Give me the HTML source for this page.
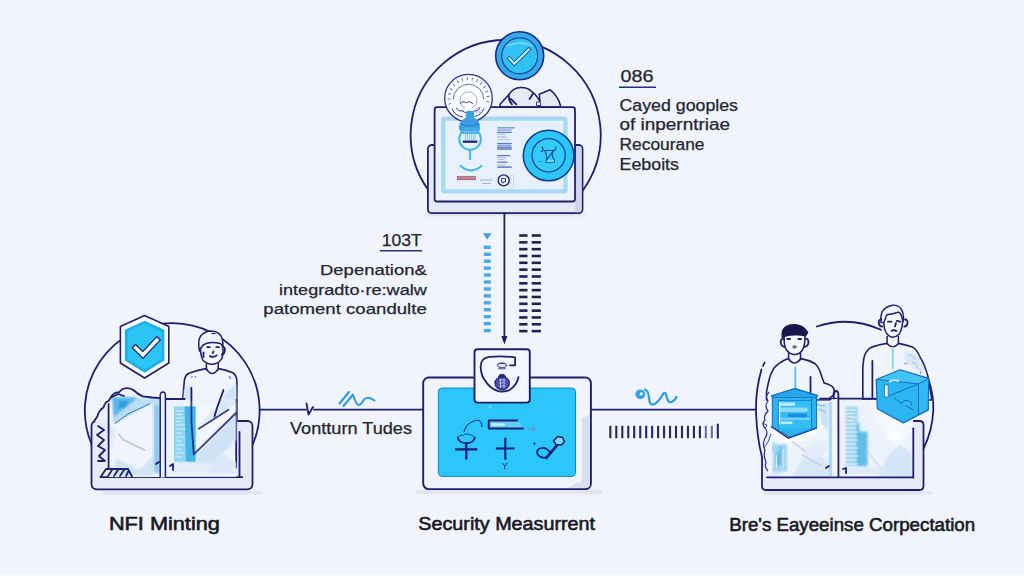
<!DOCTYPE html>
<html lang="en">
<head>
<meta charset="utf-8">
<title>NFT Security Flow</title>
<style>
  html, body { margin: 0; padding: 0; }
  body { width: 1024px; height: 576px; overflow: hidden; background: #f1f4fc; font-family: "Liberation Sans", sans-serif; }
  svg { display: block; }
  .t { font-family: "Liberation Sans", sans-serif; fill: #24252f; stroke: #24252f; stroke-width: 0.25px; font-size: 16px; }
  .lbl { font-family: "Liberation Sans", sans-serif; fill: #171822; stroke: #171822; stroke-width: 0.55px; font-size: 17.6px; }
  .nv { stroke: #1f1f70; fill: none; stroke-width: 1.8; stroke-linecap: round; stroke-linejoin: round; }
</style>
</head>
<body>
<svg width="1024" height="576" viewBox="0 0 1024 576">
  <defs>
    <filter id="soft" x="-10%" y="-10%" width="120%" height="120%"><feGaussianBlur stdDeviation="0.9"/></filter>
    <filter id="soft2" x="-10%" y="-10%" width="120%" height="120%"><feGaussianBlur stdDeviation="1.6"/></filter>
  </defs>
  <rect x="0" y="0" width="1024" height="576" fill="#f1f4fc"/>
  <rect x="0" y="573.500" width="1024" height="2.500" fill="#f8faff"/>

  <!-- ===================== TOP MONITOR GROUP ===================== -->
  <g id="top">
    <path class="nv" d="M427.900 189.5 A95 95 0 1 1 582.500 190.9" stroke-width="1.600"/>
    <rect x="424" y="213.500" width="162" height="3" rx="1.500" fill="#e3e7f3"/>
    <!-- back frame -->
    <rect x="427.900" y="145" width="154.600" height="68.200" rx="4" fill="#e4e9f6" stroke="#1f1f70" stroke-width="1.800"/>
    <path d="M575 146 H579 Q581.600 146 581.600 149 V209 Q581.600 212.300 578 212.300 H575 Z" fill="#cfd8ea"/>
    <!-- crumpled paper -->
    <path d="M500.100 104.300 L508.900 94.600 Q513 88 520.750 87.600 Q527 87.300 531.300 91.100 Q536 94.500 537.900 98.100 L541.800 104.700 L541.800 107 H500 Z" fill="#e6ebf6" stroke="#1f1f70" stroke-width="1.500" stroke-linejoin="round"/>
    <path d="M508.900 94.600 Q508 100 512 104.300 M511 99 L516.400 104.300 M533 93.700 L529.500 99" class="nv" stroke-width="1.300"/>
    <path d="M539.200 94.200 L550.200 89.800 Q554.500 93 556.800 97.200 Q559.500 101 560.300 105.100 V107 H540.500 Z" fill="#e4e9f4" stroke="#1f1f70" stroke-width="1.500" stroke-linejoin="round"/>
    <path d="M536.500 102 h4 v3.500 h-4 Z" fill="#f3f6fd" stroke="#3a3ca0" stroke-width="1"/>
    <!-- front monitor -->
    <rect x="434.600" y="107.200" width="140.400" height="94.300" rx="2.500" fill="#eef2fc" stroke="#1f1f70" stroke-width="1.800"/>
    <rect x="443.200" y="118.600" width="122.300" height="72.700" rx="1" fill="#e6f1fc" stroke="#a6d9f5" stroke-width="4.200"/>
    <!-- gauge -->
    <circle cx="468.500" cy="98.200" r="23.800" fill="#fbfcff" stroke="#2f3188" stroke-width="1.300"/>
    <path d="M450 104.400 A19.500 19.500 0 1 1 487 104.400" fill="none" stroke="#3d3f92" stroke-width="3" stroke-dasharray="1.100 3.900" opacity="0.650"/>
    <path d="M453.300 99.400 a15.200 15.200 0 0 1 30.400 0" fill="none" stroke="#55589f" stroke-width="0.900"/>
    <circle cx="468.500" cy="100.400" r="8.500" fill="#ffffff" stroke="#8c8fc2" stroke-width="0.800"/>
    <path d="M460 104 q3 -4 6 -1 q3 -3 7 1" fill="none" stroke="#3d3f92" stroke-width="1"/>
    <!-- gauge lower part overlapping monitor -->
    <path d="M452 108 Q455 116 463 117 L468 112 L474 117 Q481 115 484 108 Z" fill="#f7f9fe"/>
    <path d="M452 108.500 Q455 116 463 117 M484 108.500 Q481 115 475 116.500" fill="none" stroke="#2f3188" stroke-width="1"/>
    <path d="M456 108 q3 4 7 3 q2 3 5 1 q3 3 6 -1 q3 1 6 -3" fill="none" stroke="#3d3f92" stroke-width="1"/>
    <path d="M475 109 l6 -2 M476 112 l5 0" stroke="#a8a2d8" stroke-width="0.800"/>
    <!-- blue lamp -->
    <path d="M466.500 111.500 Q470 110 473.800 111.500 L474.500 118 Q479 120 480 126 Q480.500 130 478 133 H462 Q458.500 130 459 126 Q460 120.500 465.500 118 Z" fill="#3a9fe3"/>
    <path d="M461 124 q9 4 18 0" stroke="#2573c4" stroke-width="0.900" fill="none"/>
    <rect x="464" y="133" width="12.300" height="7.300" fill="#d3ebfa"/>
    <path d="M465.500 133 v7 M467.500 133 v7 M469.500 133 v7 M471.500 133 v7 M473.500 133 v7 M475.300 133 v7" stroke="#7fc4ee" stroke-width="0.800"/>
    <circle cx="470.100" cy="139" r="10.800" fill="none" stroke="#45b4ee" stroke-width="2"/>
    <rect x="464" y="131.500" width="12.300" height="9" fill="#d3ebfa"/>
    <path d="M465.500 132 v8 M467.500 132 v8 M469.500 132 v8 M471.500 132 v8 M473.500 132 v8 M475.300 132 v8" stroke="#7fc4ee" stroke-width="0.800"/>
    <path d="M462 133 H478" stroke="#3a9fe3" stroke-width="1.500"/>
    <rect x="462.800" y="140.600" width="14.600" height="2.200" fill="#1f1f70"/>
    <path d="M470.100 150 V160" stroke="#45b4ee" stroke-width="1.900"/>
    <path d="M460.400 165.800 Q471 175 481.600 165.800" fill="none" stroke="#45b4ee" stroke-width="1.900" stroke-linecap="round"/>
    <!-- red strip + small bits -->
    <rect x="457.5" y="176.6" width="18" height="3.2" fill="#d97a86" stroke="#5a3a78" stroke-width="0.5"/>
    <path d="M480 180 h12 M482 183.5 h9" stroke="#9fb6d8" stroke-width="1.2"/>
    <circle cx="503.700" cy="180.400" r="5.500" fill="#eef2fb" stroke="#1f1f70" stroke-width="1.400"/>
    <path d="M501.500 178.500 h4 v3.500 h-4 Z M503 182 v1.500 M506.300 176.500 l1 1" fill="none" stroke="#2f3188" stroke-width="0.900"/>
    <rect x="510.700" y="175.600" width="2.800" height="11.400" fill="#eef2fb" stroke="#c5cde6" stroke-width="0.800"/>
    <!-- text lines on monitor -->
    <g fill="none"><path d="M497.200 127.8 h17.7" stroke="#6f8fd8" stroke-width="1.3"/><path d="M497.200 130.0 h14.5" stroke="#7a83d2" stroke-width="1.1"/><path d="M497.200 132.4 h14.5" stroke="#5f74c8" stroke-width="1.2"/><path d="M497.200 134.4 h9" stroke="#a9b6e2" stroke-width="0.9"/><path d="M497.200 137.0 h10" stroke="#9aa6dc" stroke-width="0.9"/><path d="M497.200 139.7 h14" stroke="#a9b6e2" stroke-width="0.8"/><path d="M497.200 143.5 h15" stroke="#5f7fd0" stroke-width="1.2"/><path d="M497.200 145.3 h14" stroke="#6f8fd8" stroke-width="1.1"/><path d="M497.200 147.2 h14.5" stroke="#4e66be" stroke-width="1.2"/><path d="M497.200 149.0 h14.5" stroke="#3d55b0" stroke-width="1.2"/><path d="M497.200 155.6 h13" stroke="#5f74c8" stroke-width="1.2"/><path d="M497.200 157.4 h9" stroke="#a9b6e2" stroke-width="0.9"/><path d="M497.200 159.4 h8" stroke="#a9b6e2" stroke-width="0.9"/><path d="M497.200 162.2 h10.5" stroke="#5f74c8" stroke-width="1.2"/><path d="M497.200 165.0 h9" stroke="#a9b6e2" stroke-width="0.9"/><path d="M497.200 167.1 h14.5" stroke="#4e66be" stroke-width="1.3"/></g>
    <!-- round badge on monitor -->
    <circle cx="548.600" cy="155.500" r="25.300" fill="#2cc6f9" stroke="#0d3d92" stroke-width="1.500"/>
    <circle cx="548.600" cy="155.300" r="16.600" fill="#33cbfb" stroke="#0e4fa0" stroke-width="1.300"/>
    <path d="M542.300 147 l0.800 3.500 l-1.800 1 M556 147 l-0.800 3 l-2.500 0.800 M544.500 150.500 H553.500 L546.500 160 L546 162.500 H554.500 L554 158.500 L552.500 157 M544.500 150.500 Q547.500 155 546.500 160 M553.500 150.500 Q551.500 154 552.500 157" fill="none" stroke="#0e4fa0" stroke-width="1.200" stroke-linecap="round" stroke-linejoin="round"/>
    <path d="M547 160 h7 v2.300 h-7.500 Z" fill="#6fdafc"/>
    <path d="M538.500 161.500 h3" stroke="#2a86d0" stroke-width="1"/>
    <!-- check badge -->
    <circle cx="519.700" cy="55.800" r="24" fill="#3aa8e8" stroke="#0d2f8a" stroke-width="1.600"/>
    <circle cx="519.700" cy="55.800" r="18" fill="#30c1f5" stroke="#0d4a9c" stroke-width="1.200"/>
    <path d="M507 46 Q519 40.500 532 45.500" fill="none" stroke="#8fe0fb" stroke-width="1.300" stroke-linecap="round"/>
    <path d="M509.300 58.300 L514.300 63.800 L528.800 49.500" fill="none" stroke="#0d4a9c" stroke-width="3.800" stroke-linecap="square" stroke-linejoin="miter"/>
    <path d="M509.300 58.300 L514.300 63.800 L528.800 49.500" fill="none" stroke="#c4f0fd" stroke-width="2.100" stroke-linecap="square" stroke-linejoin="miter"/>
  </g>

  <!-- ===================== CONNECTORS ===================== -->
  <g id="conn">
    <path class="nv" d="M504.4 213 V338" stroke-width="1.6"/>
    <path d="M504.400 344.500 L501.300 336 H507.500 Z" fill="#1f1f70"/>
    <path d="M483 233.2 H491.6 L487.3 239.4 Z" fill="#3b9fe6"/>
    <rect x="483.8" y="245.60" width="7" height="3.4" fill="#49a8ea"/>
    <rect x="483.8" y="252.54" width="7" height="3.4" fill="#49a8ea"/>
    <rect x="483.8" y="259.48" width="7" height="3.4" fill="#49a8ea"/>
    <rect x="483.8" y="266.42" width="7" height="3.4" fill="#49a8ea"/>
    <rect x="483.8" y="273.36" width="7" height="3.4" fill="#49a8ea"/>
    <rect x="483.8" y="280.30" width="7" height="3.4" fill="#49a8ea"/>
    <rect x="483.8" y="287.24" width="7" height="3.4" fill="#49a8ea"/>
    <rect x="483.8" y="294.18" width="7" height="3.4" fill="#49a8ea"/>
    <rect x="483.8" y="301.12" width="7" height="3.4" fill="#49a8ea"/>
    <rect x="483.8" y="308.06" width="7" height="3.4" fill="#49a8ea"/>
    <rect x="483.8" y="315.00" width="7" height="3.4" fill="#49a8ea"/>
    <rect x="483.8" y="321.94" width="7" height="3.4" fill="#49a8ea"/>
    <rect x="483.8" y="328.88" width="7" height="3.4" fill="#49a8ea"/>
    <rect x="519.2" y="234.20" width="8.3" height="2.600" fill="#20214f"/>
    <rect x="531.7" y="234.20" width="9.2" height="2.600" fill="#20214f"/>
    <rect x="519.2" y="241.03" width="8.3" height="2.600" fill="#20214f"/>
    <rect x="531.7" y="241.03" width="9.2" height="2.600" fill="#20214f"/>
    <rect x="519.2" y="247.86" width="8.3" height="2.600" fill="#20214f"/>
    <rect x="531.7" y="247.86" width="9.2" height="2.600" fill="#20214f"/>
    <rect x="519.2" y="254.69" width="8.3" height="2.600" fill="#20214f"/>
    <rect x="531.7" y="254.69" width="9.2" height="2.600" fill="#20214f"/>
    <rect x="519.2" y="261.52" width="8.3" height="2.600" fill="#20214f"/>
    <rect x="531.7" y="261.52" width="9.2" height="2.600" fill="#20214f"/>
    <rect x="519.2" y="268.35" width="8.3" height="2.600" fill="#20214f"/>
    <rect x="531.7" y="268.35" width="9.2" height="2.600" fill="#20214f"/>
    <rect x="519.2" y="275.18" width="8.3" height="2.600" fill="#20214f"/>
    <rect x="531.7" y="275.18" width="9.2" height="2.600" fill="#20214f"/>
    <rect x="519.2" y="282.01" width="8.3" height="2.600" fill="#20214f"/>
    <rect x="531.7" y="282.01" width="9.2" height="2.600" fill="#20214f"/>
    <rect x="519.2" y="288.84" width="8.3" height="2.600" fill="#20214f"/>
    <rect x="531.7" y="288.84" width="9.2" height="2.600" fill="#20214f"/>
    <rect x="519.2" y="295.67" width="8.3" height="2.600" fill="#20214f"/>
    <rect x="531.7" y="295.67" width="9.2" height="2.600" fill="#20214f"/>
    <rect x="519.2" y="302.50" width="8.3" height="2.600" fill="#20214f"/>
    <rect x="531.7" y="302.50" width="9.2" height="2.600" fill="#20214f"/>
    <rect x="519.2" y="309.33" width="8.3" height="2.600" fill="#20214f"/>
    <rect x="531.7" y="309.33" width="9.2" height="2.600" fill="#20214f"/>
    <rect x="519.2" y="316.16" width="8.3" height="2.600" fill="#20214f"/>
    <rect x="531.7" y="316.16" width="9.2" height="2.600" fill="#20214f"/>
    <rect x="519.2" y="322.99" width="8.3" height="2.600" fill="#20214f"/>
    <rect x="531.7" y="322.99" width="9.2" height="2.600" fill="#20214f"/>
    <rect x="519.2" y="329.82" width="8.3" height="2.600" fill="#20214f"/>
    <rect x="531.7" y="329.82" width="9.2" height="2.600" fill="#20214f"/>
    <path class="nv" d="M259.800 409.700 H306 M314 409.700 H422.500"/>
    <path class="nv" d="M306.5 403.5 L308.5 414.5 L313 407" stroke-width="1.4"/>
    <path class="nv" d="M591 409.700 H756"/>
    <path d="M339.5 403.5 L349 392 M343.5 406 L353 394.5 Q356 404.5 358.5 405 Q361 405 364 399.5 Q368 395.5 374.5 400.5" fill="none" stroke="#2d9ceb" stroke-width="2.100" stroke-linecap="round" stroke-linejoin="round"/>
    <circle cx="640.3" cy="394.3" r="4.9" fill="#3aa0e8"/><circle cx="641.300" cy="393.800" r="1.600" fill="#f1f4fc"/>
    <path d="M645 389.5 Q648.5 391 649 398 Q649.5 405.5 653.5 404.5 Q659 402 663 394 Q665.5 391 666.5 396 Q667.5 403 671.5 402 Q674.5 401 676.5 397" fill="none" stroke="#2d9ceb" stroke-width="2.200" stroke-linecap="round" stroke-linejoin="round"/>
    <rect x="609.30" y="425.8" width="2.1" height="12.4" fill="#26275c"/>
    <rect x="615.27" y="425.8" width="2.1" height="12.4" fill="#26275c"/>
    <rect x="621.24" y="425.8" width="2.1" height="12.4" fill="#26275c"/>
    <rect x="627.21" y="425.8" width="2.1" height="12.4" fill="#26275c"/>
    <rect x="633.18" y="425.8" width="2.1" height="12.4" fill="#26275c"/>
    <rect x="639.15" y="425.8" width="2.1" height="12.4" fill="#26275c"/>
    <rect x="645.12" y="425.8" width="2.1" height="12.4" fill="#26275c"/>
    <rect x="651.09" y="425.8" width="2.1" height="12.4" fill="#26275c"/>
    <rect x="657.06" y="425.8" width="2.1" height="12.4" fill="#26275c"/>
    <rect x="663.03" y="425.8" width="2.1" height="12.4" fill="#26275c"/>
    <rect x="669.00" y="425.8" width="2.1" height="12.4" fill="#26275c"/>
    <rect x="674.97" y="425.8" width="2.1" height="12.4" fill="#26275c"/>
    <rect x="680.94" y="425.8" width="2.1" height="12.4" fill="#26275c"/>
    <rect x="686.91" y="425.8" width="2.1" height="12.4" fill="#26275c"/>
    <rect x="692.88" y="425.8" width="2.1" height="12.4" fill="#26275c"/>
    <rect x="698.85" y="425.8" width="2.1" height="12.4" fill="#26275c"/>
    <rect x="704.82" y="425.8" width="2.1" height="12.4" fill="#4a4c7e" opacity="0.8"/>
    <rect x="710.79" y="425.8" width="2.1" height="12.4" fill="#4a4c7e" opacity="0.8"/>
    <rect x="716.76" y="423.7" width="2.1" height="14.8" fill="#26275c"/>
  </g>

  <!-- ===================== LEFT GROUP ===================== -->
  <g id="left">
    <!-- circle -->
    <path class="nv" d="M91.500 444 A87.400 87.400 0 1 1 252.500 445"/>
    <!-- person body -->
    <path d="M205.700 368.600 Q196 370.500 188.300 373.500 Q184.500 376 184.200 382.500 L182.800 397.800 V440 H236.900 V381.100 Q236.500 375 232.800 372.800 Q226 370 218.900 368.600 Q212.300 376 205.700 368.600 Z" fill="#f0f4fc" stroke="#1f1f70" stroke-width="1.600" stroke-linejoin="round"/>
    <path d="M206.400 362 V368.600 Q212.300 378.500 218.200 368.600 V362" fill="#f5f8fd" stroke="#1f1f70" stroke-width="1.500"/>
    <path d="M184 390 L192 384 V400 H183.500 Z M236 384 L226 392 L222 400 H236.500 Z" fill="#c6e0f6" opacity="0.800" filter="url(#soft)"/>
    <path d="M191 377.500 l1.500 -1 M195 376 l1 1.500 M229 376 l1.500 3" stroke="#3a3ca0" stroke-width="0.900" fill="none"/>
    <!-- head -->
    <path d="M200.500 345 Q200 354 202.900 360.300 Q207 364.500 212.600 364.200 Q218 364 221.700 358.900 Q224 352 222.500 343 Q212 338 200.500 345 Z" fill="#f5f8fd" stroke="#1f1f70" stroke-width="1.500" stroke-linejoin="round"/>
    <path d="M199.400 351 Q197.500 340 201 335.500 Q205 331.300 211 331.100 Q218 331.300 221 336 Q223.500 340.500 222.400 346.500 Q221.500 344 220.300 343.600 Q213 342 207.800 343 Q203.500 344 202.200 346.400 Q200.500 348 199.400 351 Z" fill="#f0f3fb" stroke="#1f1f70" stroke-width="1.500" stroke-linejoin="round"/>
    <path d="M211.500 333.500 h4" stroke="#1f1f70" stroke-width="1.200"/>
    <path d="M222.800 346.500 q2.800 0.800 2 4.500 q-0.800 3.500 -3 3.500" class="nv" stroke-width="1.300"/>
    <path d="M203.500 352.500 v4.500" class="nv" stroke-width="1"/>
    <path d="M207.200 347.200 h2.600 M216.300 347.200 h2.600" class="nv" stroke-width="1.200"/>
    <path d="M213.500 351.500 l-0.800 1.500" class="nv" stroke-width="0.800"/>
    <path d="M209.900 356.100 Q213.500 358 216.800 355.400" class="nv" stroke-width="1.200"/>
    <!-- tray -->
    <rect x="91.500" y="421" width="161" height="68.300" rx="5" fill="#e7ebf7" stroke="#1f1f70" stroke-width="1.800"/>
    <path d="M100.400 477.100 H242.300" class="nv" stroke-width="1.600"/>
    <rect x="102" y="491" width="160" height="3.800" rx="1.900" fill="#e1e6f2"/>
    <!-- crumpled stuff behind left box -->
    <path d="M93.600 422 L97.300 416.400 L103 408 L108.500 401 L112 395.500 L119 391.500 L126.400 388.200 L134 390.500 L142.800 396.400 L152 397.500 L160 398.200 V422 Z" fill="#eef3fb"/>
    <path d="M98 426 l6 4 l-7 5 l7 5 l-6 6 l7 4 l-6 6 l6 5 h-7" class="nv" stroke-width="1.100"/>
    <!-- left glass box -->
    <rect x="108.200" y="396" width="52" height="81" fill="#f0f5fc"/>
    <g filter="url(#soft)">
      <path d="M112 397 H137 L136 408 L126 416 L114 423 Z" fill="#5bb8ea"/>
      <path d="M119 401 h9 v7 h-9 Z" fill="#2b9de0"/>
      <path d="M137 398 H160 V406 L150 404 L114.600 424 L113 418 Z" fill="#b9ddf4"/>
      <path d="M153.700 405 H160 V473 H153.700 Z" fill="#8fcbee"/>
      <path d="M116 458 L140 470 L153 456 V476 H112 Z" fill="#cfe5f5"/>
      <path d="M109 424 L116 430 L112 450 Z" fill="#dbeaf8"/>
    </g>
    <path d="M114.600 423.700 L128 414 L150 403.700" fill="none" stroke="#3e6fc0" stroke-width="1"/>
    <path d="M118.800 434.300 L122.800 439.400 L144.600 450.100" fill="none" stroke="#c3c6cf" stroke-width="1.700" stroke-linecap="round" stroke-linejoin="round"/>
    <path d="M108.600 404 V467.500" class="nv" stroke-width="1.300"/>
    <path d="M93.600 422 L97.300 416.400 Q99 410 103.500 407.500 Q105 402 108.500 401 L112 395.500 Q115 391.500 119 392.500 Q122 388.500 126.400 388.200 Q131 388 134 390.500 Q138 394.500 142.800 396.400 L152 397.500 L160 398.200" class="nv" stroke-width="1.500"/>
    <path d="M111 397.500 L118 394 L124 396" class="nv" stroke-width="1"/>
    <path d="M101 476.500 l5 -7.500 h22 l4 7.500 M108 476 l4 -6 M114 476 l4 -6 M120 476 l4 -6 M126 476 l2.500 -5" class="nv" stroke-width="1.300"/>
    <!-- right glass box -->
    <rect x="166" y="399.800" width="70.400" height="77" fill="#edf3fc"/>
    <path d="M236.200 400 V467.500" class="nv" stroke-width="1.500"/>
    <g filter="url(#soft)">
      <path d="M197 404 H236 V412 L200 452 Z" fill="#f3f7fd"/>
      <path d="M196 455 L236 414 V440 L206 470 H196 Z" fill="#cfe3f6"/>
      <path d="M198 428 L228 409 L236 404 V399.800 H222 Z" fill="#d9e9f8"/>
      <path d="M169.600 463 H236 V473 H169.600 Z" fill="#e6eff9"/>
      <path d="M205 474 L222 452 L236 466 V474 Z" fill="#dbe9f8"/>
    </g>
    <rect x="174" y="406.500" width="21.500" height="55.300" fill="#8fd4f3"/>
    <path d="M184.500 406.500 H195.500 V461.800 H186 Z" fill="#41b5ea"/>
    <g stroke="#d9f1fc" stroke-width="1.200">
      <path d="M175.500 411 h9 M175.500 414.500 h7 M175.500 418 h9 M175.500 421.500 h6 M175.500 425 h9 M175.500 429 h10 M175.500 433 h7 M175.500 437 h9 M175.500 441 h6 M175.500 445 h9 M175.500 449 h6 M175.500 453 h9 M175.500 457 h7"/>
    </g>
    <path d="M174 462.500 H236" stroke="#d6e6f5" stroke-width="1.500"/>
    <path d="M165.400 399 H184.700" class="nv" stroke-width="1.600"/>
    <!-- arm lines -->
    <path d="M191.400 388 V399.800" class="nv" stroke-width="1.500"/>
    <path d="M191.400 399.800 V421.400 L193.800 454.400 L235.500 413.500 M198.800 428.800 L228.500 409.800" class="nv" stroke-width="1.300" stroke="#2f3590" opacity="0.850"/>
    <path d="M223.500 390 L216.900 408.200 L214.500 416.400" class="nv" stroke-width="1.500"/>
    <!-- divider -->
    <path d="M160.200 477.500 V396 Q160.200 392 163 392 Q165.400 392 165.400 396 V477.500" fill="#eef2fb" stroke="#1f1f70" stroke-width="1.500"/>
        <path d="M239.500 432 V476" class="nv" stroke-width="1.400"/>
    <path d="M170 466 l3 -2 v6 M159 462 l-3 2" class="nv" stroke-width="1"/>
    <!-- shield -->
    <path d="M144.600 315.600 L168.800 326.500 V363 L144.600 378 L120.400 363 V326.500 Z" fill="#f6f9fe" stroke="#1f1f70" stroke-width="1.600" stroke-linejoin="round"/>
    <path d="M144.600 320.800 L164.300 329.700 V360.500 L144.600 372.700 L124.900 360.500 V329.700 Z" fill="#1fb0ea"/>
    <path d="M144.600 324 L161.500 331.600 V359 L144.600 369.500 L127.700 359 V331.600 Z" fill="#2cc5f7"/>
    <path d="M135.600 347.800 L142.900 355 L157 340" fill="none" stroke="#1f1f70" stroke-width="6" stroke-linecap="square"/>
    <path d="M135.600 347.800 L142.900 355 L157 340" fill="none" stroke="#f4fbff" stroke-width="3.400" stroke-linecap="square"/>
  </g>

  <!-- ===================== CENTER GROUP ===================== -->
  <g id="center">
    <rect x="416" y="489.800" width="186" height="4.200" rx="2" fill="#dfe4f0"/>
    <rect x="423.2" y="377.5" width="167.7" height="111.6" rx="5.5" fill="#f1f4fd" stroke="#1f1f70" stroke-width="1.9"/>
    <path d="M582 418 q5 -1 8 -5 V484 q0 4 -4 4 H566 q6 -1 10 -5 h2 q4 0 4 -4 Z" fill="#d9dfee"/>
    <rect x="437" y="386.800" width="139.600" height="90.600" rx="4.500" fill="#f9fbff"/><rect x="438.300" y="388" width="137.200" height="88.400" rx="3.800" fill="#2cc7fa" stroke="#1583c4" stroke-width="1"/>
    <!-- small box -->
    <rect x="474.500" y="349.300" width="55.300" height="53.300" rx="3" fill="#f3f6fd" stroke="#1f1f70" stroke-width="1.900"/>
    <path d="M510 365.300 H515.100 V357.400 Q502 355.500 489.200 356.900 Q480 358.500 480.700 367.600 Q481 375 484.700 380 Q490 389 499.300 391.300 Q505 392 509.500 390.100 Q516.500 385.500 518.500 377.200" class="nv" stroke-width="1.700"/>
    <path d="M497 365 q5 -4.500 10.200 0 q-1 2.800 -5 2.800 q-4 0 -5.200 -2.800 Z" fill="#dfe5f5" stroke="#2a2c86" stroke-width="0.900"/>
    <path d="M498.500 363.500 h7 M498 368.800 h8" stroke="#3a3c9a" stroke-width="0.900"/>
    <ellipse cx="502.200" cy="383.200" rx="7.300" ry="6.600" fill="#4a4cae" stroke="#23237c" stroke-width="1.100"/>
    <path d="M498.500 377 q0.500 -3 3.500 -2.700 q3 -0.300 3.800 2.700 Z" fill="#2d2e88" stroke="#23237c" stroke-width="0.900"/>
    <path d="M499 380 h6.500 M499 383 h6.500 M499 386 h6.500 M500.500 378.500 v9.500 M504 378.500 v9.500" stroke="#c4c8f2" stroke-width="0.800"/>
    <!-- icons on screen -->
    <g fill="none" stroke="#12217a" stroke-linecap="round" stroke-linejoin="round">
      <path d="M455.200 449.400 H477.400 M466.300 443.100 V459.600" stroke-width="2.400" stroke-linecap="butt"/>
      <path d="M457.700 437.400 Q458.500 443.100 466.300 443.100 Q474 443.100 474.800 437.400" stroke-width="1.600"/>
      <path d="M458 437.400 q3 -3 5.500 -2 q2 -2.500 5 -1 q3 0 6 3" stroke-width="0.900" stroke-dasharray="2 1"/>
      <path d="M464 431.700 Q466 425 470.400 422.800 Q475 420 478 420.200 Q482 421 481.800 426.600" stroke-width="1"/>
      <path d="M518 420.500 H488.800 V428.500 H523.700" stroke-width="2" fill="#63cdf9" stroke-linecap="butt"/>
      <path d="M492 424.500 h12" stroke="#c9eefd" stroke-width="2.400"/>
      <path d="M495.800 448.500 H514.600 M505.300 437.800 V459.800" stroke-width="2.200" stroke-linecap="butt"/>
      <path d="M502.800 463.500 l2 2.500 l2.200 -2.800 M504.700 466 v3" stroke-width="0.900"/>
      <path d="M529.500 429.100 h7.500 M533.200 425.500 v7.500" stroke-width="1.100" stroke="#6b8fc4" stroke-dasharray="1.500 1"/>
      <circle cx="534.500" cy="443.700" r="1.100" fill="#12217a" stroke="none"/>
      <path d="M553.500 441 L557.500 436.600 L562.500 437.500 L564.500 441.500 L561.500 445 L556 444.500 Z" stroke-width="1.500" fill="#7fd8fb"/>
      <path d="M556.700 445.600 L546.600 457.700" stroke-width="2.800"/>
      <path d="M546.600 457.700 Q540 458 537.700 454.500 Q536.300 451.500 538.300 449.400 Q541.500 447 545.300 448.200 Q549 450 550.400 453.200" stroke-width="1.800"/>
    </g>
    <path d="M488 405 l2 3 l1.500 -3" stroke="#9fd9f6" stroke-width="0.9" fill="none"/>
  </g>

  <!-- ===================== RIGHT GROUP ===================== -->
  <g id="right">
    <!-- circle arcs -->
    <path class="nv" d="M816.700 326.500 A88.600 88.600 0 0 1 881 329.800" stroke-width="1.700"/>
    <path class="nv" d="M927.700 377.200 Q934 395 933.300 410 Q932.500 430 923.900 447.800" stroke-width="1.700"/>
    <path class="nv" d="M764.600 362.500 l-1.600 3.500 M761.500 369.500 Q755.500 390 756 412 Q757 438 762 457" stroke-width="1.600"/>
    <!-- tray -->
    <path d="M768 421 H919.500 Q923.500 421 923.500 425 V486 Q923.500 490 919.500 490 H766 Q762 490 762 486 V457 L768 448 Z" fill="#e7ebf7"/>
    <path d="M762 457 V486 Q762 490 766 490 H919.500 Q923.500 490 923.500 486 V425 Q923.500 421 919.500 421 H912" class="nv" stroke-width="1.800"/>
    <rect x="764" y="491" width="168" height="3.800" rx="1.900" fill="#e1e6f2"/>
    <!-- left person -->
    <path d="M787.900 358.600 Q779 362.500 773.900 368.200 Q770 374 768.500 382 L766.500 391.800 V400 H830 L830 397.700 Q835.500 394 834.400 391.800 Q834 387 831.500 385.900 Q827 383.500 824.100 383 L821.900 377 Q819.500 368 815.200 363.700 Q809 360 801.200 358.600 Q794.500 366 787.900 358.600 Z" fill="#f1f5fc" stroke="#1f1f70" stroke-width="1.600" stroke-linejoin="round"/>
    <path d="M788.600 353 V358.600 Q794.500 367.500 800.500 358.600 V353" fill="#f5f8fd" stroke="#1f1f70" stroke-width="1.500"/>
    <path d="M795.300 366.700 V388" stroke="#5bc0f0" stroke-width="1.900"/>
    <path d="M810.500 377 V393.300" class="nv" stroke-width="1.600"/>
    <path d="M784.200 334 Q783.500 346 786.500 350 Q790 354.500 794.500 354.500 Q799.500 354.500 802.500 350 Q805.500 345 804.900 334 Z" fill="#f5f8fd" stroke="#1f1f70" stroke-width="1.500"/>
    <path d="M782.300 337.500 Q781 330 786 326.500 Q790 324 797 324.800 Q804 326 807.800 332.500 L805.500 336 Q801 334.500 795 335 Q789 335.300 786.500 335.800 Q784.500 336.200 782.300 337.500 Z" fill="#17174a" stroke="#17174a" stroke-width="1.200" stroke-linejoin="round"/>
    <path d="M784 338.600 q-3.300 -0.300 -3.300 3.700 q0.300 4 3.600 4.500 M805.200 338.600 q3.300 -0.300 3.300 3.700 q-0.300 4 -3.600 4.500" class="nv" stroke-width="1.300"/>
    <path d="M787.300 339 h2.800 M798.300 339 h2.800" class="nv" stroke-width="1.100"/>
    <path d="M792.800 346.500 q1.700 -1.500 3.600 0 q-0.500 1.800 -2 1.800 q-1.300 0 -1.600 -1.800 Z" fill="#c78aa0" stroke="#1f1f70" stroke-width="0.800"/>
    <!-- right person -->
    <path d="M887.100 343.400 Q877 345 870.600 347.700 Q865 351.500 863.700 359 L862.800 368 V400 H931.400 V397.200 L927.900 376.400 Q924.500 364 920.100 357.300 Q917 349.500 912.300 346.900 Q905 344.500 898.400 343.400 Q892.800 349 887.100 343.400 Z" fill="#f1f5fc" stroke="#1f1f70" stroke-width="1.600" stroke-linejoin="round"/>
    <path d="M887.100 336 V343.400 Q892.800 350.500 898.400 343.400 V336" fill="#f5f8fd" stroke="#1f1f70" stroke-width="1.500"/>
    <path d="M892.800 346.900 V369.400" stroke="#8fd0f2" stroke-width="1.800"/>
    <path d="M872.400 360.800 V397.200" class="nv" stroke-width="1.600"/>
    <path d="M883.600 318 Q883.600 327 885.400 331.250 Q888 336.500 892.300 337.300 Q896.500 337 899.300 333.900 Q902.700 329 902.700 318 Q900 310 893 310 Q885 311 883.600 318 Z" fill="#f5f8fd" stroke="#1f1f70" stroke-width="1.500"/>
    <path d="M881 322.600 Q880.500 316 881.900 312.200 Q885 306.500 892.300 305.200 Q898 304.800 901 308.700 Q903.500 312 903.600 317.400 L903 322 Q902.500 318.500 901.900 317.400 Q901 313 898.400 312.200 Q893 314.200 887 314.800 Q885.500 316.500 885.400 319 L883.600 322.600 Z" fill="#f0f3fb" stroke="#1f1f70" stroke-width="1.400" stroke-linejoin="round"/>
    <path d="M881.300 319.500 q-2.800 0 -2.500 3.500 q0.500 3.500 3.300 3.500 M905 319.500 q2.800 0 2.500 3.500 q-0.500 3.500 -3.300 3.500" class="nv" stroke-width="1.300"/>
    <path d="M888 321.700 h3.500 M896.700 320.800 l3.500 0.900" class="nv" stroke-width="1.100"/>
    <path d="M896 323 l-1 3.500 M891.500 330.800 q2.500 -1.300 5 0.300" class="nv" stroke-width="1"/>
    <path d="M908 355 l4 1 l3 4 M904 364 l4 -1 M912 362 l4 2 l2 5 M920 370 l1 4" stroke="#5560b8" stroke-width="1.100" fill="none" opacity="0.700"/>
    <path d="M905 350 L918 356 L926 374 L916 370 L905 362 Z" fill="#cfe2f6" opacity="0.700" filter="url(#soft)"/>
    <!-- glass boxes -->
    <path d="M820 398.600 H876.500" class="nv" stroke-width="1.700"/>
    <rect x="767.700" y="400.800" width="63.700" height="76.300" fill="#eef4fc"/>
    <g filter="url(#soft)">
      <path d="M768 438 L790 446 L812 436 L828 420 V404 H818 L806 430 Z" fill="#f6f9fe"/>
      <path d="M792 477 L810 446 L828 462 V477 Z" fill="#d6e6f6"/>
      <path d="M770 440 L788 448 L780 477 H769 Z" fill="#dde9f7"/>
      <path d="M818 403 h10 v28 l-8 -10 Z" fill="#c9e2f6"/>
      <path d="M800 450 L824 440 L828 452 L806 462 Z" fill="#e3edf9"/>
      <rect x="771.500" y="444" width="15.600" height="27.800" fill="#a5d7f2"/>
      <path d="M776 452 h3 v-6 h3 v20 h-6 Z" fill="#6dbfeb"/>
    </g>
    <path d="M773 452 v16 M776.500 455 v13 M783 450 v18" stroke="#d9eefa" stroke-width="1.100"/>
    <path d="M802 455 L822 466 M790 440 L806 452" stroke="#c3cad9" stroke-width="1.100" fill="none"/>
    <path d="M817 404 q4 3 8 1 M819 409 l6 3" stroke="#6fa8dc" stroke-width="0.900" fill="none"/>
    <rect x="841.700" y="400" width="71.300" height="77" fill="#edf3fc"/>
    <g filter="url(#soft)">
      <path d="M868 402 H912 V430 L897 448 L880 428 Z" fill="#f5f8fe"/>
      <path d="M878 477 L888 455 L900 444.500 L912 454 V477 Z" fill="#d3e6f7"/>
      <path d="M845.800 406.600 H857.800 V466.300 H845.800 Z" fill="#a5d7f0"/>
      <path d="M856.600 423 h2.800 V431.600 H867.500 V466.300 H856.600 Z" fill="#62bdea"/>
      <ellipse cx="893.600" cy="436" rx="7.500" ry="5" fill="#fbfdff"/>
      <path d="M845 468 h40 v6 h-40 Z" fill="#dcebf8"/>
    </g>
    <g stroke="#e6f4fc" stroke-width="1">
      <path d="M846.500 410 h10 M846.500 413.500 h8 M846.500 417 h10 M846.500 420.500 h7 M846.500 424 h10 M846.500 428 h9 M846.500 432 h11 M846.500 436 h10 M846.500 440 h11 M846.500 444 h9 M846.500 448 h11 M846.500 452 h10 M846.500 456 h11 M846.500 460 h10 M846.500 464 h11"/>
    </g>
    <path d="M868 452 L882 470" stroke="#cdd3e0" stroke-width="1.100"/>
    <!-- ragged left edge -->
    <path d="M769 392 q-4 4 -1 9 q-4 5 0 10 q-5 5 -3 9 q-4 4 0 8 q4 5 0 10 q-3 7 0 12 q-2 6 1 12 q-2 5 2 9 L772 477 V392 Z" fill="#f1f5fc"/>
    <path d="M769 392 q-4 4 -1 9 q-4 5 0 10 q-5 5 -3 9 q-4 4 0 8 q4 5 0 10 q-3 7 0 12 q-2 6 1 12 q-2 5 2 9" fill="none" stroke="#2a2c90" stroke-width="1.200"/>
    <path d="M762 423 l5 2 l-2 4 M764 448 l4 -6 l3 -8" fill="none" stroke="#3550b8" stroke-width="1"/>
        <!-- divider -->
    <rect x="832" y="399" width="6.400" height="78" fill="#f4f7fd"/>
    <rect x="828.700" y="402" width="3.400" height="74" fill="#a9d8f2" opacity="0.900"/>
    <path d="M838.400 476.800 V395 Q838.400 391 836 391 Q833.300 391.300 833.600 395.500 L834 398.500" class="nv" stroke-width="1.700"/>
    <path d="M913.300 428.300 V477.500" class="nv" stroke-width="1.600"/>
    <path d="M767 477.300 H913.300" class="nv" stroke-width="1.500"/>
    <path d="M843 469 l3 -1 v5 M829 466 l-3 2" class="nv" stroke-width="1"/>
    <!-- left cube -->
    <path d="M770.500 425 L772.400 427.500 L788 438.300 L790 438.300 L816.600 428.500 L817.500 424 L817 432 L790 442 L774 434 Z" fill="#fafcff"/>
    <path d="M771 426.500 L788.500 438.200 L817 427.800" fill="none" stroke="#1f1f70" stroke-width="1.400" stroke-linejoin="round"/>
    <path d="M795 388.500 L816.600 395.800 V427.500 L789.700 437 L772.400 426.700 V395.800 Z" fill="#2bb4ef"/>
    <path d="M795 388.500 L818 395.300 L816.600 397.500 H772.400 L771 395.800 Z" fill="#27a6e8" stroke="#1672c8" stroke-width="0.900" stroke-linejoin="round"/>
    <rect x="778.400" y="400.600" width="33" height="27.800" fill="#34bff4"/>
    <path d="M778.400 428.400 V400.600 H811.400" fill="none" stroke="#1583d6" stroke-width="1"/>
    <path d="M811.600 397.500 V429" stroke="#1672c8" stroke-width="1"/>
    <path d="M779.300 402.400 h15.700 v3.400 h-15.700 Z" fill="#bfeafb"/>
    <path d="M780.200 407.600 h26 l2.600 2.200 l-2.600 2.200 h-26 Z" fill="#8fdcf9"/>
    <path d="M788 413.600 h19 v3.400 h-19 Z" fill="#1a8fdc"/>
    <path d="M780 418 h30.500 v1.800 h-30.500 Z" fill="#7fd3f7"/>
    <path d="M781 421.500 h11.300 v2.600 h-11.300 Z" fill="#bfeafb"/>
    <path d="M779.600 402 v22.500" stroke="#e6f7fe" stroke-width="1.300"/>
    <path d="M795 388.500 L816.600 395.800 V427.500 L789.700 437 L772.400 426.700 V395.800 Z" fill="none" stroke="#1672c8" stroke-width="1.100" stroke-linejoin="round"/>
    <!-- right cube -->
    <path d="M900.100 369.800 L928.700 378.400 L928.300 409.900 L903.300 422.900 L877.300 408.800 L876.200 379.500 Z" fill="#2cb6ef"/>
    <path d="M900.100 369.800 L928.700 378.400 L918.500 383.900 L876.200 379.500 Z" fill="#43c3f6"/>
    <path d="M918.500 383.900 L928.700 378.400 L928.300 409.900 L918.500 415 Z" fill="#2fbaf3"/>
    <path d="M918.500 383.900 V414.500 M918.500 383.900 L928.700 378.400 M918.500 383.900 L889.200 395.800 M876.200 379.500 L918.500 383.900 M893.600 398 L913 410" stroke="#156bc4" stroke-width="1" fill="none"/>
    <path d="M901.300 404.500 a5.400 5.400 0 0 1 10.600 1.500" fill="#37bdf4" stroke="#156bc4" stroke-width="1"/>
    <rect x="884.500" y="385" width="3.600" height="12" fill="#f1faff" stroke="#156bc4" stroke-width="0.700"/>
    <path d="M889 381.800 q5 -2.500 10 -0.500" stroke="#d9f3fd" stroke-width="1.600" fill="none"/>
    <path d="M900.100 369.800 L928.700 378.400 L928.300 409.900 L903.300 422.900 L877.300 408.800 L876.200 379.500 Z" fill="none" stroke="#156bc4" stroke-width="1.200" stroke-linejoin="round"/>
  </g>

  <!-- ===================== TEXT ===================== -->
  <g id="text">
    <text class="t" x="620.500" y="82" textLength="33" lengthAdjust="spacingAndGlyphs">086</text>
    <rect x="619" y="86.500" width="37" height="1.500" fill="#2b2c7a"/>
    <text class="t" x="619.500" y="110.800" textLength="118.500" lengthAdjust="spacingAndGlyphs">Cayed gooples</text>
    <text class="t" x="619.500" y="130.300" textLength="110.500" lengthAdjust="spacingAndGlyphs">of inperntriae</text>
    <text class="t" x="619.500" y="149.800" textLength="85" lengthAdjust="spacingAndGlyphs">Recourane</text>
    <text class="t" x="619.500" y="169.700" textLength="59.500" lengthAdjust="spacingAndGlyphs">Eeboits</text>

    <text class="t" x="381.800" y="246" textLength="40" lengthAdjust="spacingAndGlyphs">103T</text>
    <rect x="380" y="250" width="42" height="1.500" fill="#2b2c7a"/>
    <text class="t" style="font-size:15.200px" x="320" y="275.200" textLength="106.800" lengthAdjust="spacingAndGlyphs">Depenation&amp;</text>
    <text class="t" style="font-size:15.200px" x="279" y="295.200" textLength="147.800" lengthAdjust="spacingAndGlyphs">integradto·re:walw</text>
    <text class="t" style="font-size:15.200px" x="263.300" y="313.800" textLength="163.500" lengthAdjust="spacingAndGlyphs">patoment coandulte</text>

    <text class="t" x="290" y="434" textLength="122" lengthAdjust="spacingAndGlyphs">Vontturn Tudes</text>

    <text class="lbl" x="108.900" y="530.400" textLength="111" lengthAdjust="spacingAndGlyphs">NFI Minting</text>
    <text class="lbl" x="418.300" y="529.800" textLength="176.800" lengthAdjust="spacingAndGlyphs">Security Measurrent</text>
    <text class="lbl" x="729.200" y="530.600" textLength="246" lengthAdjust="spacingAndGlyphs">Bre's Eayeeinse Corpectation</text>
  </g>
</svg>
</body>
</html>
